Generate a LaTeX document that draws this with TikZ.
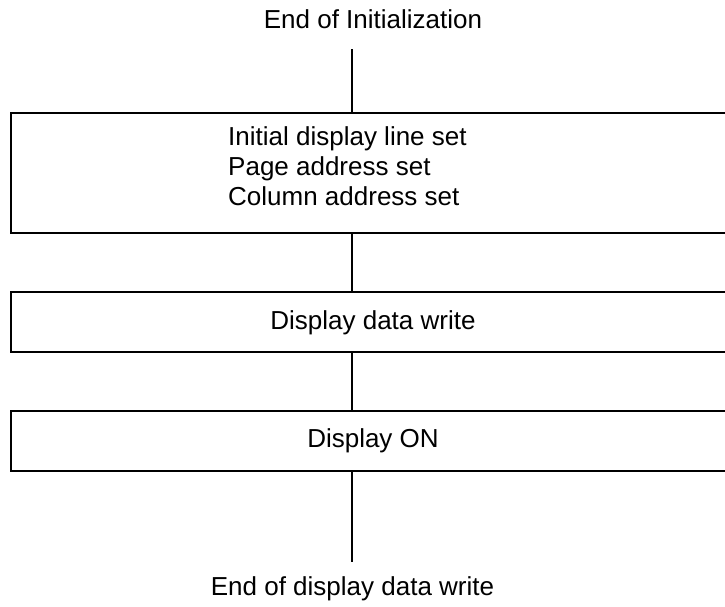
\documentclass[tikz,border=0pt]{standalone}
\usepackage{fontspec}
\setmainfont{Liberation Sans}
\begin{document}
\begin{tikzpicture}[x=1pt,y=-1pt,
  box/.style={draw, line width=1.8pt, rectangle, minimum width=724pt, inner sep=0pt},
  txt/.style={font=\fontsize{26}{30}\selectfont, inner sep=0pt},
  conn/.style={line width=1.3pt}]
\useasboundingbox (0,0) rectangle (725,606);
\clip (0,0) rectangle (725,606);
\node[txt, anchor=base] (start) at (373,28) {End of Initialization};
\coordinate (t) at (352,49);
\node[box, minimum height=120pt] (b1) at (373,173) {};
\node[txt, anchor=base west, align=left] (b1t) at (228,205) {Initial display line set\\Page address set\\Column address set};
\node[box, minimum height=60pt] (b2) at (373,322) {};
\node[txt, anchor=base] (b2t) at (373,329) {Display data write};
\node[box, minimum height=60pt] (b3) at (373,441) {};
\node[txt, anchor=base] (b3t) at (373,447) {Display ON};
\coordinate (e) at (352,562);
\node[txt, anchor=base] (end) at (352.5,595) {End of display data write};
\draw[conn] (t) -- (t |- b1.north);
\draw[conn] (t |- b1.south) -- (t |- b2.north);
\draw[conn] (t |- b2.south) -- (t |- b3.north);
\draw[conn] (t |- b3.south) -- (e);
\end{tikzpicture}
\end{document}
